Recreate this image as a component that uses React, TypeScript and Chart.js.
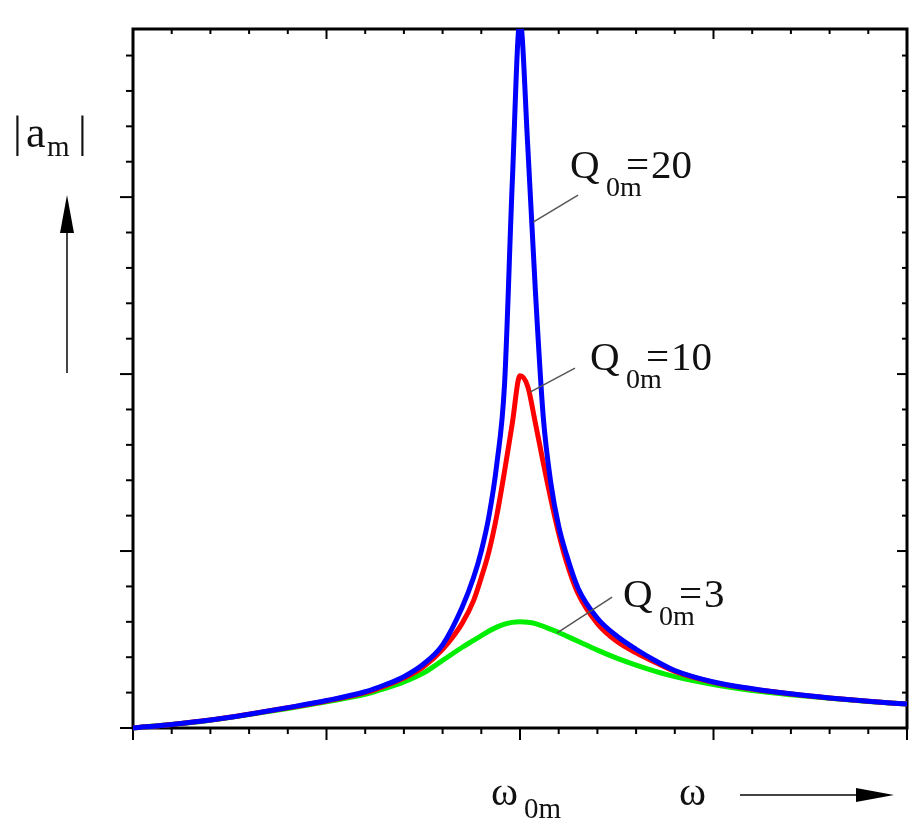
import React, { useEffect, useRef } from "react";
import { Chart, registerables } from "chart.js";

Chart.register(...registerables);

// ω / ω0m sample positions
const omegaValues = [0, 0.1, 0.2, 0.3, 0.4, 0.5, 0.6, 0.65, 0.7, 0.75, 0.8, 0.85, 0.88, 0.9, 0.92, 0.94, 0.96, 0.98, 1.0, 1.02, 1.04, 1.06, 1.08, 1.1, 1.12, 1.15, 1.2, 1.25, 1.3, 1.35, 1.4, 1.5, 1.6, 1.7, 1.8, 1.9, 2.0];

// |a_m|
const amplitudeQ20 = [0, 0.02, 0.045, 0.078, 0.115, 0.155, 0.205, 0.243, 0.29, 0.36, 0.47, 0.68, 0.85, 1.0, 1.2, 1.49, 1.94, 3.08, 4.0, 3.29, 2.46, 1.76, 1.38, 1.14, 0.98, 0.79, 0.62, 0.52, 0.445, 0.38, 0.325, 0.26, 0.222, 0.193, 0.17, 0.151, 0.135];
const amplitudeQ10 = [0, 0.02, 0.045, 0.078, 0.114, 0.153, 0.2, 0.237, 0.282, 0.345, 0.445, 0.59, 0.72, 0.85, 1.0, 1.2, 1.45, 1.72, 1.99, 1.93, 1.72, 1.5, 1.29, 1.1, 0.94, 0.76, 0.59, 0.49, 0.425, 0.37, 0.32, 0.258, 0.22, 0.192, 0.17, 0.151, 0.135];
const amplitudeQ3 = [0, 0.02, 0.044, 0.076, 0.11, 0.148, 0.19, 0.222, 0.26, 0.31, 0.382, 0.455, 0.495, 0.522, 0.548, 0.57, 0.587, 0.597, 0.6, 0.598, 0.59, 0.575, 0.557, 0.54, 0.52, 0.49, 0.44, 0.395, 0.355, 0.32, 0.29, 0.245, 0.212, 0.188, 0.168, 0.15, 0.135];

const qValues = ["20", "10", "3"];
const xMin = 0;
const xMax = 2;
const yMin = 0;
const yMax = 3.95;
const xMinorStep = 0.1;
const xMajorEvery = 5;
const yMinorStep = 0.2;
const yMajorEvery = 5;

const SERIF = "'Liberation Serif', 'DejaVu Serif', serif";

// annotation anchors in data units: [text x, baseline y, leader x1, y1, x2, y2]
const labelAnchors = [
  [1.129, 3.107, 1.150, 3.011, 1.034, 2.859],
  [1.181, 2.023, 1.142, 2.034, 1.026, 1.898],
  [1.266, 0.684, 1.238, 0.740, 1.096, 0.537],
];

const framePlugin = {
  id: "frameAndTicks",
  beforeDatasetsDraw(chart: any) {
    const ctx = chart.ctx;
    const { left, right, top, bottom } = chart.chartArea;
    const xs = chart.scales.x;
    const ys = chart.scales.y;
    ctx.save();
    ctx.strokeStyle = "#000";
    ctx.lineCap = "butt";
    ctx.lineWidth = 2;
    const seg = (x1: number, y1: number, x2: number, y2: number) => {
      ctx.beginPath();
      ctx.moveTo(x1, y1);
      ctx.lineTo(x2, y2);
      ctx.stroke();
    };
    const nx = Math.round((xMax - xMin) / xMinorStep);
    for (let i = 0; i <= nx; i++) {
      const px = xs.getPixelForValue(xMin + i * xMinorStep);
      const major = i % xMajorEvery === 0;
      seg(px, bottom, px, bottom + (major ? 12 : 6));
      seg(px, top, px, top + (major ? 10 : 5));
    }
    const ny = Math.floor((yMax - yMin) / yMinorStep + 1e-6);
    for (let i = 0; i <= ny; i++) {
      const py = ys.getPixelForValue(yMin + i * yMinorStep);
      const major = i % yMajorEvery === 0;
      seg(left - (major ? 13 : 7), py, left, py);
      seg(right - (major ? 10 : 5), py, right, py);
    }
    ctx.lineWidth = 3;
    ctx.strokeRect(left, top, right - left, bottom - top);
    ctx.restore();
  },
  afterDraw(chart: any) {
    const ctx = chart.ctx;
    const xs = chart.scales.x;
    const ys = chart.scales.y;
    ctx.save();
    ctx.fillStyle = "#111";
    ctx.textBaseline = "alphabetic";
    ctx.textAlign = "left";
    const main = `41px ${SERIF}`;
    const sub = `28px ${SERIF}`;
    labelAnchors.forEach((a, i) => {
      const tx = xs.getPixelForValue(a[0]);
      const ty = ys.getPixelForValue(a[1]);
      ctx.strokeStyle = "#555";
      ctx.lineWidth = 1.5;
      ctx.beginPath();
      ctx.moveTo(xs.getPixelForValue(a[2]), ys.getPixelForValue(a[3]));
      ctx.lineTo(xs.getPixelForValue(a[4]), ys.getPixelForValue(a[5]));
      ctx.stroke();
      ctx.font = main;
      ctx.fillText("Q", tx, ty);
      ctx.fillText("=", tx + 56, ty);
      ctx.fillText(qValues[i], tx + 81, ty);
      ctx.font = sub;
      ctx.fillText("0m", tx + 36, ty + 18);
    });

    // y axis label |a_m|
    ctx.font = `44px ${SERIF}`;
    ctx.fillText("|", 13, 147);
    ctx.fillText("a", 26, 147);
    ctx.fillText("|", 78, 147);
    ctx.font = `29px ${SERIF}`;
    ctx.fillText("m", 47, 156);

    // x axis labels
    const w0 = xs.getPixelForValue(1.0);
    ctx.font = `41px ${SERIF}`;
    ctx.fillText("ω", w0 - 29, 805);
    ctx.fillText("ω", 679, 805);
    ctx.font = `29px ${SERIF}`;
    ctx.fillText("0m", w0 + 4, 818);

    // arrows
    ctx.strokeStyle = "#444";
    ctx.lineWidth = 2;
    ctx.beginPath();
    ctx.moveTo(67, 373);
    ctx.lineTo(67, 230);
    ctx.moveTo(740, 795);
    ctx.lineTo(860, 795);
    ctx.stroke();
    ctx.fillStyle = "#000";
    ctx.beginPath();
    ctx.moveTo(67, 195);
    ctx.lineTo(74, 233);
    ctx.lineTo(60, 233);
    ctx.closePath();
    ctx.fill();
    ctx.beginPath();
    ctx.moveTo(894, 795);
    ctx.lineTo(856, 788);
    ctx.lineTo(856, 802);
    ctx.closePath();
    ctx.fill();
    ctx.restore();
  },
};

function toPoints(ys: number[]) {
  return omegaValues.map((x, i) => ({ x, y: ys[i] }));
}

export default function App() {
  const ref = useRef<HTMLCanvasElement | null>(null);
  useEffect(() => {
    if (!ref.current) return;
    const common = {
      pointRadius: 0,
      borderWidth: 5,
      fill: false,
      cubicInterpolationMode: "monotone" as const,
      clip: { left: 0, right: 0, top: 0, bottom: 4 },
    };
    const chart = new Chart(ref.current, {
      type: "line",
      data: {
        datasets: [
          { label: "Q0m=20", data: toPoints(amplitudeQ20), borderColor: "#0000ff", ...common },
          { label: "Q0m=10", data: toPoints(amplitudeQ10), borderColor: "#ff0000", ...common },
          { label: "Q0m=3", data: toPoints(amplitudeQ3), borderColor: "#00ee00", ...common },
        ],
      },
      options: {
        animation: false,
        responsive: false,
        devicePixelRatio: 1,
        layout: { padding: { left: 133, right: 3, top: 29, bottom: 95 } },
        plugins: { legend: { display: false }, tooltip: { enabled: false } },
        events: [],
        scales: {
          x: { type: "linear", min: xMin, max: xMax, display: false },
          y: { type: "linear", min: yMin, max: yMax, display: false },
        },
      },
      plugins: [framePlugin],
    });
    return () => chart.destroy();
  }, []);
  return (
    <div style={{ position: "absolute", left: 0, top: 0, width: 910, height: 823, background: "#fff" }}>
      <canvas ref={ref} width={910} height={823} style={{ display: "block" }} />
    </div>
  );
}
